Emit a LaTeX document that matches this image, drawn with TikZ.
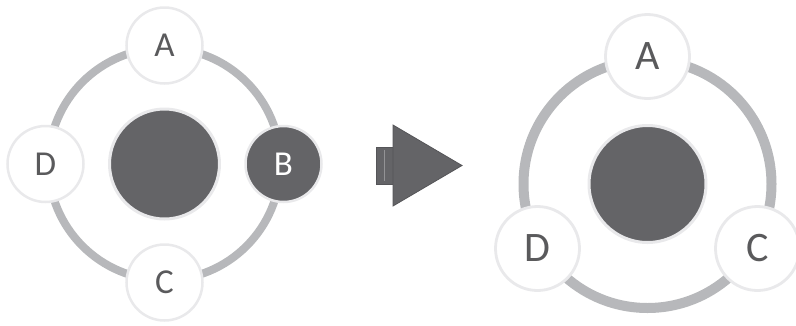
\documentclass[tikz,border=0pt]{standalone}
\usepackage{fontspec}
\setmainfont{Carlito}
\definecolor{darkfill}{HTML}{646467}
\definecolor{ringgray}{HTML}{B7B8BB}
\definecolor{edgegray}{HTML}{E9E9EB}
\definecolor{txtgray}{HTML}{5A5A5C}
\tikzset{
  ringline/.style={draw=ringgray},
  lettersmall/.style={circle, draw=edgegray, line width=2.5pt, fill=white, minimum size=76pt, inner sep=0pt, text=txtgray, font=\fontsize{35}{35}\selectfont},
  letterbig/.style={circle, draw=edgegray, line width=2.8pt, fill=white, minimum size=84pt, inner sep=0pt, text=txtgray, font=\fontsize{42}{42}\selectfont},
  hubsmall/.style={circle, draw=edgegray, line width=3pt, fill=darkfill, minimum size=110pt, inner sep=0pt},
  hubbig/.style={circle, draw=edgegray, line width=3pt, fill=darkfill, minimum size=117pt, inner sep=0pt},
  arrowpart/.style={fill=darkfill, draw=darkfill!85!black, line width=0.8pt}
}
\begin{document}
\begin{tikzpicture}[x=1pt,y=-1pt]
\useasboundingbox (0,0) rectangle (796,325);
% left diagram
\coordinate (lc) at (164.5,164);
\draw[ringline, line width=8pt] (lc) circle (116);
\node[hubsmall] (lhub) at (lc) {};
\node[lettersmall] (lA) at (164.5,45.5) {A};
\node[lettersmall, fill=darkfill, text=white] (lB) at (283.5,164) {B};
\node[lettersmall] (lC) at (164.5,282.5) {C};
\node[lettersmall] (lD) at (45.5,164) {D};
% arrow
\fill[arrowpart] (376,147) rectangle (393,184);
\draw[darkfill!70!white, line width=1pt] (384,150) -- (384,181);
\filldraw[arrowpart] (393,125) -- (462,165.5) -- (393,206) -- cycle;
% right diagram
\coordinate (rc) at (647.5,184);
\draw[ringline, line width=10pt] (rc) circle (124);
\node[hubbig] (rhub) at (rc) {};
\node[letterbig] (rA) at (647.5,56.5) {A};
\node[letterbig] (rC) at (757.5,248.5) {C};
\node[letterbig] (rD) at (537.5,248.5) {D};
\end{tikzpicture}
\end{document}
